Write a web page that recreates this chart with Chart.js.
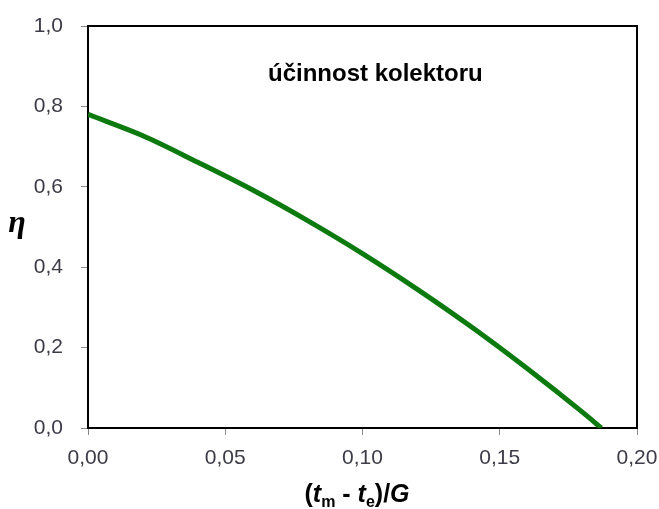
<!DOCTYPE html>
<html>
<head>
<meta charset="utf-8">
<script src="https://cdn.jsdelivr.net/npm/chart.js@4"></script>
<style>
  html, body { margin: 0; padding: 0; background: #fff; }
  #wrap { width: 659px; height: 509px; position: relative; }
</style>
</head>
<body>
<div id="wrap"><canvas id="eta-chart"></canvas></div>
<script>
// values
const xValues = [0, 0.02, 0.04, 0.06, 0.08, 0.10, 0.12, 0.14, 0.16, 0.18, 0.187];
const etaValues = [0.78, 0.727, 0.661, 0.592, 0.516, 0.434, 0.345, 0.25, 0.148, 0.04, 0.0];
const xTicks = [0, 0.05, 0.10, 0.15, 0.20];
const yTicks = [0, 0.2, 0.4, 0.6, 0.8, 1.0];
const chartTitle = "účinnost kolektoru";

const points = xValues.map((x, i) => ({ x: x, y: etaValues[i] }));

const frameAndLabels = {
  id: "frameAndLabels",
  afterDraw(chart) {
    const c = chart.ctx;
    const a = chart.chartArea;
    c.save();
    // top + right border of the plot box
    c.strokeStyle = "#000";
    c.lineWidth = 2;
    c.beginPath();
    c.moveTo(a.left, a.top);
    c.lineTo(a.right, a.top);
    c.lineTo(a.right, a.bottom);
    c.stroke();

    // title inside the plot
    c.fillStyle = "#000";
    c.font = "bold 24px 'Liberation Sans', Arial, sans-serif";
    c.textBaseline = "middle";
    c.textAlign = "left";
    c.fillText(chartTitle, 268, 74);

    // y axis title
    c.font = "bold italic 32px 'Liberation Serif', 'Times New Roman', serif";
    c.textAlign = "center";
    c.textBaseline = "alphabetic";
    c.fillText("η", 17, 232);

    // x axis title with subscripts
    const sans = "'Liberation Sans', Arial, sans-serif";
    const parts = [
      { t: "(", f: "bold 25px " + sans, dy: 0 },
      { t: "t", f: "bold italic 25px " + sans, dy: 0 },
      { t: "m", f: "bold 16px " + sans, dy: 5 },
      { t: " - ", f: "bold 25px " + sans, dy: 0 },
      { t: "t", f: "bold italic 25px " + sans, dy: 0 },
      { t: "e", f: "bold 16px " + sans, dy: 5 },
      { t: ")/", f: "bold 25px " + sans, dy: 0 },
      { t: "G", f: "bold italic 25px " + sans, dy: 0 }
    ];
    let total = 0;
    parts.forEach(p => { c.font = p.f; p.w = c.measureText(p.t).width; total += p.w; });
    let x = 357 - total / 2;
    c.textAlign = "left";
    parts.forEach(p => {
      c.font = p.f;
      c.fillText(p.t, x, 502 + p.dy);
      x += p.w;
    });
    c.restore();
  }
};

new Chart(document.getElementById("eta-chart"), {
  type: "line",
  data: {
    datasets: [{
      data: points,
      borderColor: "#0d7a0f",
      borderWidth: 5,
      pointRadius: 0,
      fill: false,
      cubicInterpolationMode: "monotone"
    }]
  },
  options: {
    responsive: true,
    maintainAspectRatio: false,
    animation: false,
    layout: { padding: { left: 0, right: 22, top: 26, bottom: 0 } },
    plugins: { legend: { display: false }, tooltip: { enabled: false } },
    scales: {
      x: {
        type: "linear",
        min: 0,
        max: 0.2,
        afterFit: s => { s.height = 81; s.paddingLeft = 0; s.paddingRight = 0; },
        afterBuildTicks: s => { s.ticks = xTicks.map(v => ({ value: v })); },
        border: { display: true, color: "#000", width: 2 },
        grid: { drawOnChartArea: false, drawTicks: true, tickLength: 7, color: "#888" },
        ticks: {
          color: "#3c3c48",
          padding: 11,
          font: { family: "'Liberation Sans', Arial, sans-serif", size: 21 },
          callback: v => v.toFixed(2).replace(".", ",")
        }
      },
      y: {
        min: 0,
        max: 1,
        afterFit: s => { s.width = 88; s.paddingTop = 0; s.paddingBottom = 0; },
        afterBuildTicks: s => { s.ticks = yTicks.map(v => ({ value: v })); },
        border: { display: true, color: "#000", width: 2 },
        grid: { drawOnChartArea: false, drawTicks: true, tickLength: 7, color: "#888" },
        ticks: {
          color: "#3c3c48",
          padding: 18,
          font: { family: "'Liberation Sans', Arial, sans-serif", size: 21 },
          callback: v => v.toFixed(1).replace(".", ",")
        }
      }
    }
  },
  plugins: [frameAndLabels]
});
</script>
</body>
</html>
